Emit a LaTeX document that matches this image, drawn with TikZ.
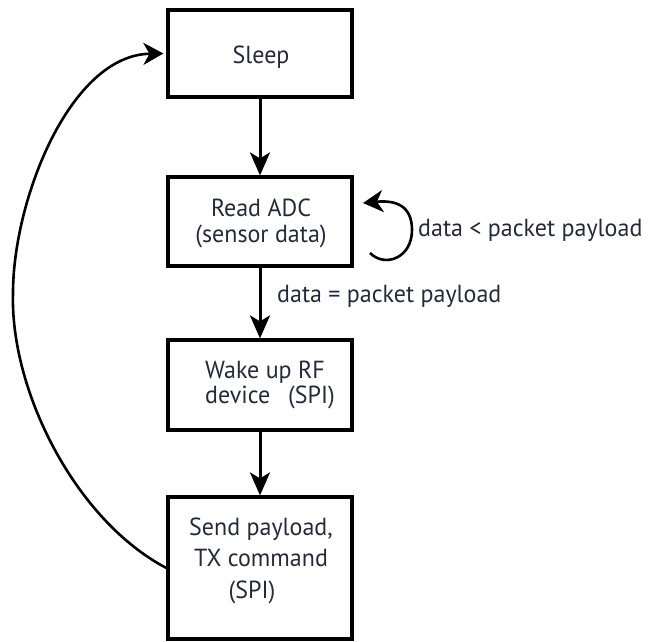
\documentclass[tikz,border=0pt]{standalone}
\usepackage{fontspec}
\setmainfont{PT Sans}
\usetikzlibrary{arrows.meta}
\definecolor{txtcol}{RGB}{40,40,60}
\newcommand\vstretch[1]{\scalebox{1}[1.03]{#1}}
\newcommand\boxlines[3]{\vstretch{\fontsize{24}{#1}\selectfont\begin{tabular}[t]{@{}#2@{}}#3\end{tabular}}}
\begin{document}
\begin{tikzpicture}[x=1pt,y=-1pt,
  box/.style={draw, line width=3.2pt, minimum width=184pt, inner sep=0pt},
  txt/.style={text=txtcol, inner sep=0pt, anchor=base},
  arr/.style={line width=3pt, -{Stealth[length=23pt,width=20pt,inset=6pt]}},
  curv/.style={line width=2.6pt, -{Stealth[length=20pt,width=22pt,inset=6pt]}}]
\useasboundingbox (0,0) rectangle (656,641);
% boxes
\node[box, minimum height=87pt] (sleep) at (260,53.5) {};
\node[box, minimum height=89pt] (adc) at (260,221.5) {};
\node[box, minimum height=90pt] (wake) at (260,385) {};
\node[box, minimum height=142pt] (send) at (260,568) {};
% box texts
\node[txt] (tsleep) at (261,63) {\boxlines{28}{c}{Sleep}};
\node[txt] (tadc) at (261,216) {\boxlines{26.2}{c}{Read ADC\\(sensor data)}};
\node[txt, anchor=base west] (twake) at (205,378) {\boxlines{25.2}{l}{Wake up RF\\device\hspace{18pt}(SPI)}};
\node[txt] (tsend) at (261,535) {\boxlines{30.6}{c}{Send payload,\\TX command\\(SPI)\hspace*{18pt}}};
% labels
\node[txt, anchor=base west] (lless) at (418,236) {\vstretch{\fontsize{24}{28}\selectfont data < packet payload}};
\node[txt, anchor=base west] (leq) at (277,302) {\vstretch{\fontsize{24}{28}\selectfont data = packet payload}};
% connectors
\draw[arr] (sleep) -- (adc);
\draw[arr] (adc) -- (wake);
\draw[arr] (wake) -- (send);
\coordinate (loopa) at (370,253);
\coordinate (loopb) at (363,203);
\draw[curv] (loopa) .. controls (385,268) and (412,258) .. (412,230)
  .. controls (412,205) and (395,200) .. (loopb);
\coordinate (back) at (13,293);
\draw[curv] (send.west) .. controls (75,520) and (10,390) .. (back)
  .. controls (13,200) and (70,55) .. ([xshift=-3pt]sleep.west);
\end{tikzpicture}
\end{document}
